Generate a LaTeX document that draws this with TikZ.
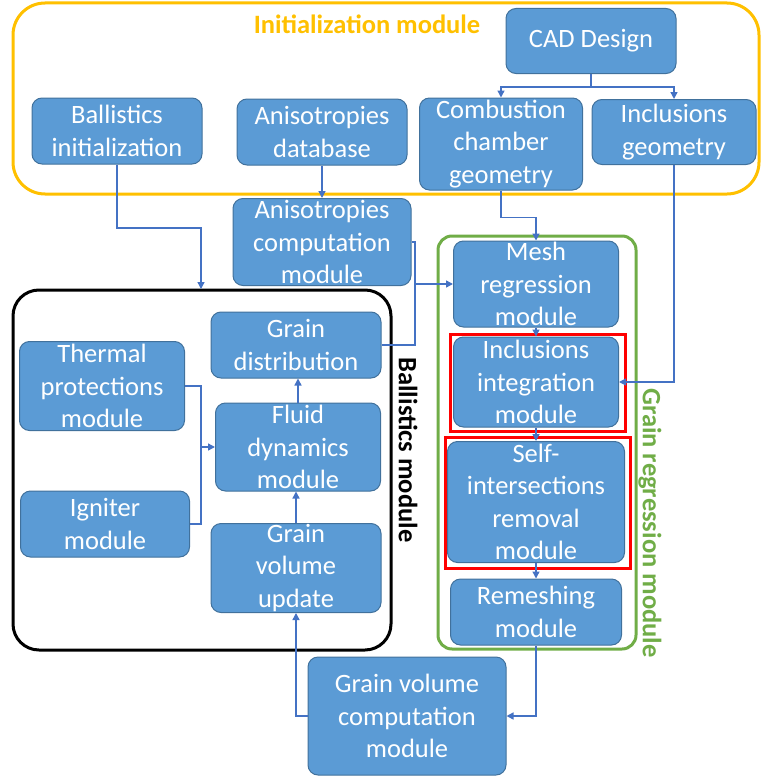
\documentclass[tikz,border=0pt]{standalone}
\usepackage{fontspec}
\setmainfont{Carlito}
\usetikzlibrary{arrows.meta,calc}
\definecolor{boxfill}{HTML}{5B9BD5}
\definecolor{boxline}{HTML}{41719C}
\definecolor{conn}{HTML}{4472C4}
\definecolor{initc}{HTML}{FFC000}
\definecolor{grainc}{HTML}{70AD47}
\tikzset{
  box/.style={draw=boxline, line width=1pt, fill=boxfill, rounded corners=10pt, text=white,
    align=center, inner sep=0pt, font=\fontsize{26.5}{32.5}\selectfont},
  arr/.style={draw=conn, line width=1.4pt, -{Triangle[length=7pt,width=7pt]}},
  ln/.style={draw=conn, line width=1.4pt},
  group/.style={line width=3pt},
  grouplabel/.style={font=\fontsize{26.5}{30}\selectfont\bfseries, inner sep=0pt}
}
\begin{document}
\begin{tikzpicture}[x=1pt,y=-1pt]
\useasboundingbox (0,0) rectangle (761,776);
% group frames
\draw[group, draw=initc, rounded corners=32pt] (13,3) rectangle (759,194);
\draw[group, draw=black, rounded corners=26pt] (13,290) rectangle (391,650);
\draw[group, draw=grainc, rounded corners=14pt] (438,236) rectangle (636,649);
\node[grouplabel, text=initc] (initlab) at (367,24) {Initialization module};
\node[grouplabel, text=black, rotate=-90] (balllab) at (408,450) {Ballistics module};
\node[grouplabel, text=grainc, rotate=-90] (grainlab) at (650,523) {Grain regression module};
% nodes
\node[box, minimum width=170pt, minimum height=65pt] (cad) at (591,41) {CAD Design};
\node[box, minimum width=170pt, minimum height=66pt] (binit) at (117,131) {Ballistics\\initialization};
\node[box, minimum width=170pt, minimum height=66pt] (adb) at (322,132) {Anisotropies\\database};
\node[box, minimum width=163pt, minimum height=92pt] (comb) at (501,144) {Combustion\\chamber\\geometry};
\node[box, minimum width=164pt, minimum height=65pt] (incg) at (674,132) {Inclusions\\geometry};
\node[box, minimum width=178pt, minimum height=87pt] (acomp) at (322,242) {Anisotropies\\computation\\module};
\node[box, minimum width=170pt, minimum height=66pt] (gdist) at (296,345) {Grain\\distribution};
\node[box, minimum width=165pt, minimum height=89pt] (therm) at (102,386) {Thermal\\protections\\module};
\node[box, minimum width=165pt, minimum height=88pt] (fluid) at (298,447) {Fluid\\dynamics\\module};
\node[box, minimum width=169pt, minimum height=66pt] (ign) at (105,524) {Igniter\\module};
\node[box, minimum width=170pt, minimum height=89pt] (gvu) at (296,568) {Grain\\volume\\update};
\node[box, minimum width=165pt, minimum height=86pt] (mesh) at (536,284) {Mesh\\regression\\module};
\node[box, minimum width=165pt, minimum height=90pt] (incint) at (536,382) {Inclusions\\integration\\module};
\node[box, minimum width=177pt, minimum height=121pt] (self) at (536,502) {Self-\\intersections\\removal\\module};
\node[box, minimum width=171pt, minimum height=66pt] (remesh) at (536,612) {Remeshing\\module};
\node[box, minimum width=198pt, minimum height=118pt] (gvc) at (407,716) {Grain volume\\computation\\module};
% red highlight frames
\draw[red, line width=3pt] (450,334) rectangle (625,431);
\draw[red, line width=3pt] (445,437) rectangle (630,568);
% helper coordinates
\coordinate (balltop) at (201,289);
\coordinate (bk1) at (201,228);
\coordinate (jn) at (415,284);
\coordinate (jl) at (201,447);
% connectors
\draw[arr] (cad.south) -- ++(0,13) -| (comb.north);
\draw[arr] (cad.south) -- ++(0,13) -| (incg.north);
\draw[arr] (binit.south) |- (bk1) -- (balltop);
\draw[arr] (adb.south) -- (acomp.north);
\draw[arr] (comb.south) -- ++(0,27) -| (mesh.north);
\draw[arr] (incg.south) |- (incint.east);
\draw[ln] (acomp.east) -| (jn);
\draw[ln] (gdist.east) -| (jn);
\draw[arr] (jn) -- (mesh.west);
\draw[arr] (mesh.south) -- (incint.north);
\draw[arr] (incint.south) -- (self.north);
\draw[arr] (self.south) -- (remesh.north);
\draw[arr] (remesh.south) |- (gvc.east);
\draw[arr] (gvc.west) -| (gvu.south);
\draw[arr] (gvu.north) -- (gvu.north |- fluid.south);
\draw[arr] (fluid.north) -- (fluid.north |- gdist.south);
\draw[ln] (therm.east) -| (jl);
\draw[ln] (ign.east) -| (jl);
\draw[arr] (jl) -- (fluid.west);
\end{tikzpicture}
\end{document}
